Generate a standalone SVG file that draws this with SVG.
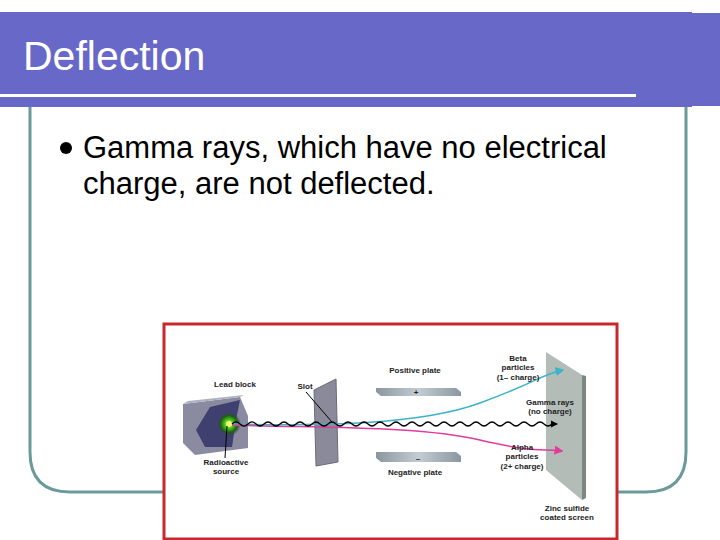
<svg xmlns="http://www.w3.org/2000/svg" width="720" height="540" viewBox="0 0 720 540">
<defs>
<style>
.lb{font-family:"Liberation Sans",Arial,sans-serif;font-size:8px;font-weight:bold;fill:#222;text-anchor:middle}
.t{font-family:"Liberation Sans",Arial,sans-serif;font-size:31px;fill:#000}
</style>
<linearGradient id="pl" x1="0" y1="0" x2="1" y2="0"><stop offset="0" stop-color="#8a96a0"/><stop offset="0.5" stop-color="#c4ccd2"/><stop offset="1" stop-color="#8a96a0"/></linearGradient>
<radialGradient id="gl"><stop offset="0" stop-color="#eaff60"/><stop offset="0.4" stop-color="#40c020"/><stop offset="0.7" stop-color="#206010"/><stop offset="1" stop-color="#3a3a60" stop-opacity="0"/></radialGradient>
<marker id="ab" markerWidth="6" markerHeight="6" refX="5" refY="3" orient="auto"><path d="M0,0L6,3L0,6z" fill="#3bb3c8"/></marker>
<marker id="aa" markerWidth="6" markerHeight="6" refX="5" refY="3" orient="auto"><path d="M0,0L6,3L0,6z" fill="#e03c9c"/></marker>
<marker id="ag" markerWidth="6" markerHeight="6" refX="5" refY="3" orient="auto"><path d="M0,0L6,3L0,6z" fill="#000"/></marker>
</defs>
<rect width="720" height="540" fill="#fff"/>
<g id="banner">
<rect x="0" y="12" width="692" height="95" fill="#6868c8"/>
<rect x="663" y="13" width="57" height="93" fill="#6868c8"/>
<rect x="0" y="94" width="636" height="3" fill="#fff"/>
<text x="23" y="70" font-family="Liberation Sans,Arial,sans-serif" font-size="41" fill="#fff">Deflection</text>
</g>
<path id="frame" d="M30,107 V452 Q30,492 70,492 H646 Q686,492 686,452 V107" fill="none" stroke="#6a9a9a" stroke-width="3"/>
<g id="bullet">
<circle cx="66" cy="148" r="6" fill="#000"/>
<text class="t" x="83" y="158">Gamma rays, which have no electrical</text>
<text class="t" x="83" y="194">charge, are not deflected.</text>
</g>
<g id="figure">
<rect x="164" y="324" width="453" height="215" fill="#fff" stroke="#c8282c" stroke-width="3"/>
<g id="leadblock">
<polygon points="183,404 240,397 248,416 248,448 195,455 183,443" fill="#8a8aa0"/>
<polygon points="183,404 240,397 244,395 188,401" fill="#b0b0c4"/>
<polygon points="210,407 240,400 236,420 232,447 205,447 196,430" fill="#404070"/>
<circle cx="229" cy="424" r="12" fill="url(#gl)"/>
<circle cx="229" cy="424" r="3" fill="#f0ff70"/>
</g>
<polygon id="slot" points="314,390 336,379 338,462 316,466" fill="#8a8a9a" stroke="#6a6a7a"/>
<polygon id="posplate" points="376,388 456,388 461,392 461,396 381,396 376,392" fill="url(#pl)"/>
<text x="416" y="395" class="lb">+</text>
<polygon id="negplate" points="376,452 456,452 461,456 461,462 381,462 376,458" fill="url(#pl)"/>
<text x="418" y="461" class="lb">–</text>
<polygon id="screen" points="546,352 582,375 582,500 546,470" fill="#b4bcb8"/>
<polygon points="582,375 586,376 586,498 582,500" fill="#7a8a80"/>
<g id="connectors" fill="none">
<path d="M232,424 C320,426 420,425 480,403 S540,375 563,370" stroke="#3bb3c8" stroke-width="1.5" marker-end="url(#ab)"/>
<path d="M232,425 C320,428 420,426 480,440 S540,448 562,451" stroke="#e03c9c" stroke-width="1.5" marker-end="url(#aa)"/>
<path d="M232,424 q4,-4 8,0 t8,0 t8,0 t8,0 t8,0 t8,0 t8,0 t8,0 t8,0 t8,0 t8,0 t8,0 t8,0 t8,0 t8,0 t8,0 t8,0 t8,0 t8,0 t8,0 t8,0 t8,0 t8,0 t8,0 t8,0 t8,0 t8,0 t8,0 t8,0 t8,0 t8,0 t8,0 t8,0 t8,0 t8,0 t8,0 t8,0 t8,0 t8,0 t8,0 h5" stroke="#000" stroke-width="1.2" marker-end="url(#ag)"/>
<line x1="306" y1="392" x2="332" y2="422" stroke="#000"/>
<line x1="227" y1="426" x2="225" y2="458" stroke="#000"/>
</g>
<text class="lb" x="235" y="387">Lead block</text>
<text class="lb" x="305" y="389">Slot</text>
<text class="lb" x="415" y="373">Positive plate</text>
<text class="lb" x="415" y="475">Negative plate</text>
<text class="lb" x="226" y="465">Radioactive</text>
<text class="lb" x="226" y="474">source</text>
<text class="lb" x="518" y="361">Beta</text>
<text class="lb" x="518" y="370">particles</text>
<text class="lb" x="518" y="380">(1– charge)</text>
<text class="lb" x="550" y="405">Gamma rays</text>
<text class="lb" x="550" y="414">(no charge)</text>
<text class="lb" x="522" y="450">Alpha</text>
<text class="lb" x="522" y="459">particles</text>
<text class="lb" x="522" y="469">(2+ charge)</text>
<text class="lb" x="567" y="511">Zinc sulfide</text>
<text class="lb" x="567" y="520">coated screen</text>
</g>
</svg>
